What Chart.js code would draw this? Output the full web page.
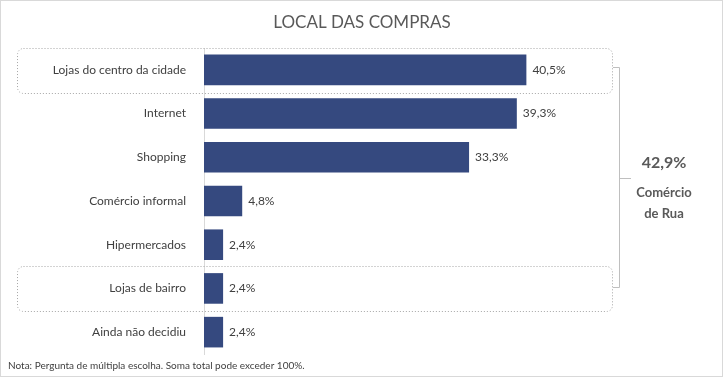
<!DOCTYPE html>
<html>
<head>
<meta charset="utf-8">
<script src="https://cdn.jsdelivr.net/npm/chart.js@4.4.0/dist/chart.umd.min.js"></script>
<style>
  html, body { margin: 0; padding: 0; background: #fff; }
  #wrap { width: 723px; height: 377px; position: relative; }
</style>
</head>
<body>
<div id="wrap"><canvas id="chart" width="723" height="377"></canvas></div>
<script>
const categories = ['Lojas do centro da cidade', 'Internet', 'Shopping', 'Comércio informal', 'Hipermercados', 'Lojas de bairro', 'Ainda não decidiu'];
const values = [40.5, 39.3, 33.3, 4.8, 2.4, 2.4, 2.4];
const highlighted = [0, 5]; // rows with dotted boxes
const groupTotal = '42,9%';
const groupLabel = ['Comércio', 'de Rua'];
const titleText = 'LOCAL DAS COMPRAS';
const noteText = 'Nota: Pergunta de múltipla escolha. Soma total pode exceder 100%.';

const FONT = 'Lato, "Open Sans", sans-serif';
const TEXT = '#595959';

function fmt(v) {
    return v.toFixed(1).replace('.', ',') + '%';
}

function roundRect(ctx, x, y, w, h, r) {
    ctx.beginPath();
    ctx.moveTo(x + r, y);
    ctx.lineTo(x + w - r, y);
    ctx.arcTo(x + w, y, x + w, y + r, r);
    ctx.lineTo(x + w, y + h - r);
    ctx.arcTo(x + w, y + h, x + w - r, y + h, r);
    ctx.lineTo(x + r, y + h);
    ctx.arcTo(x, y + h, x, y + h - r, r);
    ctx.lineTo(x, y + r);
    ctx.arcTo(x, y, x + r, y, r);
    ctx.closePath();
}

const decorPlugin = {
    id: 'decor',
    beforeDraw(chart) {
        const ctx = chart.ctx;
        ctx.save();
        ctx.fillStyle = '#fff';
        ctx.fillRect(0, 0, chart.width, chart.height);
        ctx.strokeStyle = '#d9d9d9';
        ctx.lineWidth = 1;
        ctx.strokeRect(0.5, 0.5, chart.width - 1, chart.height - 1);

        // title
        ctx.fillStyle = TEXT;
        ctx.font = '17px ' + FONT;
        ctx.textAlign = 'center';
        ctx.textBaseline = 'middle';
        ctx.fillText(titleText, 362, 23);

        // note
        ctx.font = '10px ' + FONT;
        ctx.textAlign = 'left';
        ctx.fillStyle = '#404040';
        ctx.fillText(noteText, 8, 366);
        ctx.restore();
    },
    afterDatasetsDraw(chart) {
        const ctx = chart.ctx;
        const meta = chart.getDatasetMeta(0);
        ctx.save();

        // value labels
        ctx.fillStyle = '#404040';
        ctx.font = '12px ' + FONT;
        ctx.textAlign = 'left';
        ctx.textBaseline = 'middle';
        meta.data.forEach((bar, i) => {
            ctx.fillText(fmt(values[i]), bar.x + 6, bar.y);
        });

        // dotted boxes
        ctx.strokeStyle = '#a6a6a6';
        ctx.lineWidth = 1;
        ctx.setLineDash([1, 2]);
        const boxMid = [];
        highlighted.forEach(i => {
            const cy = meta.data[i].y;
            roundRect(ctx, 17.5, Math.round(cy - 22) + 0.5, 595, 45, 6);
            ctx.stroke();
            boxMid.push(cy);
        });
        ctx.setLineDash([]);

        // bracket
        const bx = 619.5;
        const y1 = Math.round(boxMid[0] - 3) + 0.5;
        const y2 = Math.round(boxMid[1] - 1) + 0.5;
        const ym = Math.round((y1 + y2) / 2) + 0.5;
        ctx.strokeStyle = '#bfbfbf';
        ctx.beginPath();
        ctx.moveTo(613, y1); ctx.lineTo(bx, y1); ctx.lineTo(bx, y2); ctx.lineTo(613, y2);
        ctx.moveTo(bx, ym); ctx.lineTo(631, ym);
        ctx.stroke();

        // group text
        ctx.fillStyle = TEXT;
        ctx.textAlign = 'center';
        ctx.font = 'bold 16px ' + FONT;
        ctx.fillText(groupTotal, 664, 163);
        ctx.font = 'bold 13px ' + FONT;
        ctx.fillText(groupLabel[0], 664, 193);
        ctx.fillText(groupLabel[1], 664, 214);
        ctx.restore();
    }
};

new Chart(document.getElementById('chart'), {
    type: 'bar',
    data: {
        labels: categories,
        datasets: [{
            data: values,
            backgroundColor: '#35497f',
            borderWidth: 0,
            categoryPercentage: 0.7,
            barPercentage: 1.0
        }]
    },
    options: {
        indexAxis: 'y',
        responsive: false,
        animation: false,
        layout: { padding: { top: 48, bottom: 23, left: 0, right: 121 } },
        plugins: {
            legend: { display: false },
            tooltip: { enabled: false }
        },
        scales: {
            x: {
                display: false,
                min: 0,
                max: 50
            },
            y: {
                grid: { display: false },
                border: { display: true, color: '#d9d9d9', width: 1 },
                ticks: {
                    color: '#404040',
                    font: { family: FONT, size: 12 },
                    padding: 10
                },
                afterFit(scale) { scale.width = 204; }
            }
        }
    },
    plugins: [decorPlugin]
});
</script>
</body>
</html>
